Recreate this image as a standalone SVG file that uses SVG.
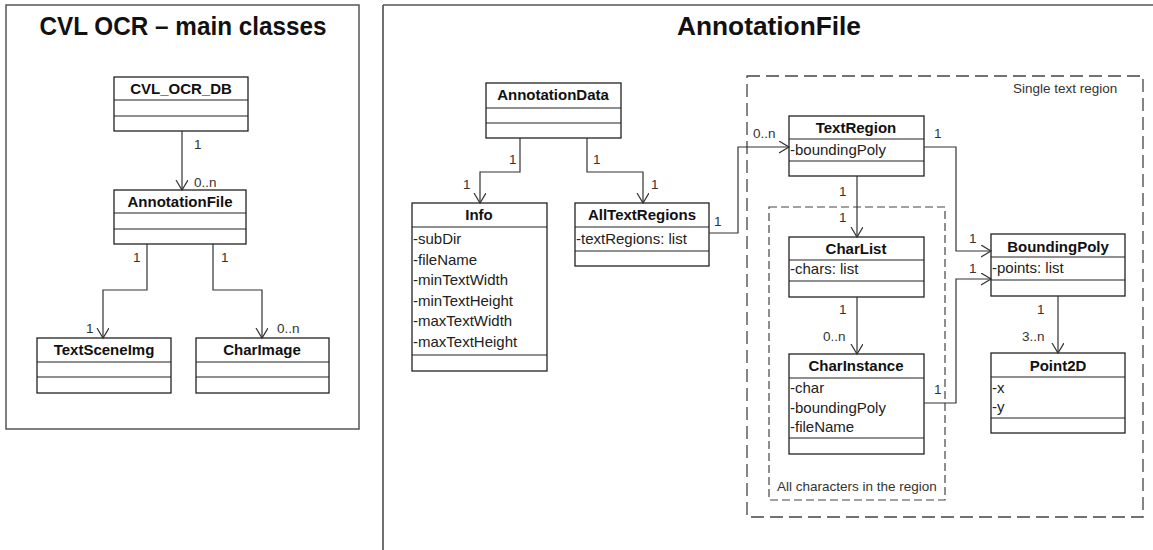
<svg xmlns="http://www.w3.org/2000/svg" width="1153" height="550" viewBox="0 0 1153 550">
<style>
.box{fill:#fff;stroke:#222;stroke-width:1.3}
.div{stroke:#222;stroke-width:1.2}
.title{font-family:"Liberation Sans",Arial,sans-serif;font-size:15px;font-weight:bold;fill:#111;text-anchor:middle}
.attr{font-family:"Liberation Sans",Arial,sans-serif;font-size:15px;fill:#222}
.lbl{font-family:"Liberation Sans",Arial,sans-serif;font-size:13.5px;fill:#333}
.big{font-family:"Liberation Sans",Arial,sans-serif;font-size:25px;font-weight:bold;fill:#111;text-anchor:middle}
.conn{fill:none;stroke:#333;stroke-width:1.2}
.dash1{fill:none;stroke:#444;stroke-width:1.3;stroke-dasharray:13,6}
.dash2{fill:none;stroke:#444;stroke-width:1.2;stroke-dasharray:8,4}
</style>
<defs>
<marker id="arr" markerUnits="userSpaceOnUse" markerWidth="12" markerHeight="14" refX="10" refY="6" orient="auto" viewBox="0 0 12 14">
<path d="M0,0 L10,6 L0,12" fill="none" stroke="#333" stroke-width="1.2"/>
</marker>
</defs>
<rect width="1153" height="550" fill="#fff"/>

<!-- Left panel -->
<g id="panel-left">
<rect x="6" y="5" width="353" height="424" fill="none" stroke="#555" stroke-width="1.5"/>
<text class="big" x="183" y="35" textLength="287" lengthAdjust="spacingAndGlyphs">CVL OCR – main classes</text>
</g>

<g id="CVL_OCR_DB">
<rect class="box" x="114" y="77" width="134" height="54"/>
<line class="div" x1="114" y1="100" x2="248" y2="100"/>
<line class="div" x1="114" y1="116" x2="248" y2="116"/>
<text class="title" x="181" y="94">CVL_OCR_DB</text>
</g>
<g id="AnnotationFileL">
<rect class="box" x="114" y="190" width="132" height="54"/>
<line class="div" x1="114" y1="213" x2="246" y2="213"/>
<line class="div" x1="114" y1="229" x2="246" y2="229"/>
<text class="title" x="180" y="207">AnnotationFile</text>
</g>
<g id="TextSceneImg">
<rect class="box" x="37" y="338" width="134" height="55"/>
<line class="div" x1="37" y1="362" x2="171" y2="362"/>
<line class="div" x1="37" y1="377" x2="171" y2="377"/>
<text class="title" x="104" y="355">TextSceneImg</text>
</g>
<g id="CharImage">
<rect class="box" x="196" y="338" width="133" height="55"/>
<line class="div" x1="196" y1="362" x2="329" y2="362"/>
<line class="div" x1="196" y1="377" x2="329" y2="377"/>
<text class="title" x="262" y="355">CharImage</text>
</g>

<!-- Right panel -->
<g id="panel-right">
<line x1="383" y1="5" x2="383" y2="550" stroke="#222" stroke-width="1.3"/>
<line x1="383" y1="5" x2="1153" y2="5" stroke="#555" stroke-width="1.3"/>
<text class="big" x="769" y="35" textLength="184" lengthAdjust="spacingAndGlyphs">AnnotationFile</text>
</g>

<g id="single-region">
<rect class="dash1" x="747" y="76" width="396" height="441"/>
<text class="lbl" x="1013" y="93">Single text region</text>
</g>
<g id="all-chars-region">
<rect class="dash2" x="769" y="207" width="176" height="293"/>
<text class="lbl" x="777" y="491">All characters in the region</text>
</g>

<g id="AnnotationData">
<rect class="box" x="486" y="83" width="135" height="55"/>
<line class="div" x1="486" y1="108" x2="621" y2="108"/>
<line class="div" x1="486" y1="123" x2="621" y2="123"/>
<text class="title" x="553" y="100">AnnotationData</text>
</g>
<g id="Info">
<rect class="box" x="412" y="203" width="135" height="168"/>
<line class="div" x1="412" y1="227" x2="547" y2="227"/>
<line class="div" x1="412" y1="355" x2="547" y2="355"/>
<text class="title" x="479" y="220">Info</text>
<text class="attr" x="413" y="244">-subDir</text>
<text class="attr" x="413" y="264.5">-fileName</text>
<text class="attr" x="413" y="285">-minTextWidth</text>
<text class="attr" x="413" y="305.5">-minTextHeight</text>
<text class="attr" x="413" y="326">-maxTextWidth</text>
<text class="attr" x="413" y="346.5">-maxTextHeight</text>
</g>
<g id="AllTextRegions">
<rect class="box" x="575" y="203" width="134" height="63"/>
<line class="div" x1="575" y1="227" x2="709" y2="227"/>
<line class="div" x1="575" y1="251" x2="709" y2="251"/>
<text class="title" x="642" y="220">AllTextRegions</text>
<text class="attr" x="576" y="244">-textRegions: list</text>
</g>
<g id="TextRegion">
<rect class="box" x="789" y="116" width="135" height="60"/>
<line class="div" x1="789" y1="139" x2="924" y2="139"/>
<line class="div" x1="789" y1="161" x2="924" y2="161"/>
<text class="title" x="856" y="133">TextRegion</text>
<text class="attr" x="790" y="155">-boundingPoly</text>
</g>
<g id="CharList">
<rect class="box" x="789" y="237" width="135" height="60"/>
<line class="div" x1="789" y1="260" x2="924" y2="260"/>
<line class="div" x1="789" y1="281" x2="924" y2="281"/>
<text class="title" x="856" y="254">CharList</text>
<text class="attr" x="790" y="274">-chars: list</text>
</g>
<g id="CharInstance">
<rect class="box" x="789" y="354" width="135" height="100"/>
<line class="div" x1="789" y1="378" x2="924" y2="378"/>
<line class="div" x1="789" y1="438" x2="924" y2="438"/>
<text class="title" x="856" y="371">CharInstance</text>
<text class="attr" x="790" y="393">-char</text>
<text class="attr" x="790" y="413">-boundingPoly</text>
<text class="attr" x="790" y="432">-fileName</text>
</g>
<g id="BoundingPoly">
<rect class="box" x="991" y="234" width="134" height="62"/>
<line class="div" x1="991" y1="257" x2="1125" y2="257"/>
<line class="div" x1="991" y1="280" x2="1125" y2="280"/>
<text class="title" x="1058" y="252">BoundingPoly</text>
<text class="attr" x="992" y="273">-points: list</text>
</g>
<g id="Point2D">
<rect class="box" x="991" y="353" width="134" height="80"/>
<line class="div" x1="991" y1="377" x2="1125" y2="377"/>
<line class="div" x1="991" y1="418" x2="1125" y2="418"/>
<text class="title" x="1058" y="371">Point2D</text>
<text class="attr" x="992" y="393">-x</text>
<text class="attr" x="992" y="412">-y</text>
</g>

<g id="connectors">
<path class="conn" d="M182,131 V190" marker-end="url(#arr)"/>
<path class="conn" d="M147,244 V290 H103 V338" marker-end="url(#arr)"/>
<path class="conn" d="M213,244 V290 H262 V338" marker-end="url(#arr)"/>
<path class="conn" d="M520,138 V172 H480 V203" marker-end="url(#arr)"/>
<path class="conn" d="M587,138 V172 H643 V203" marker-end="url(#arr)"/>
<path class="conn" d="M709,233 H738 V147 H789" marker-end="url(#arr)"/>
<path class="conn" d="M857,176 V237" marker-end="url(#arr)"/>
<path class="conn" d="M924,147 H956 V251 H991" marker-end="url(#arr)"/>
<path class="conn" d="M924,403 H956 V279 H991" marker-end="url(#arr)"/>
<path class="conn" d="M857,297 V354" marker-end="url(#arr)"/>
<path class="conn" d="M1058,296 V353" marker-end="url(#arr)"/>
<g class="lbl">
<text class="lbl" x="194" y="149">1</text>
<text class="lbl" x="194" y="187">0..n</text>
<text class="lbl" x="133" y="262">1</text>
<text class="lbl" x="86" y="333">1</text>
<text class="lbl" x="221" y="262">1</text>
<text class="lbl" x="277" y="333">0..n</text>
<text class="lbl" x="509" y="164">1</text>
<text class="lbl" x="463" y="189">1</text>
<text class="lbl" x="593" y="164">1</text>
<text class="lbl" x="651" y="189">1</text>
<text class="lbl" x="714" y="226">1</text>
<text class="lbl" x="753" y="138">0..n</text>
<text class="lbl" x="934" y="138">1</text>
<text class="lbl" x="969" y="243">1</text>
<text class="lbl" x="839" y="196">1</text>
<text class="lbl" x="839" y="222">1</text>
<text class="lbl" x="969" y="273">1</text>
<text class="lbl" x="934" y="394">1</text>
<text class="lbl" x="839" y="314">1</text>
<text class="lbl" x="823" y="341">0..n</text>
<text class="lbl" x="1037" y="314">1</text>
<text class="lbl" x="1022" y="341">3..n</text>
</g>
</g>
</svg>
